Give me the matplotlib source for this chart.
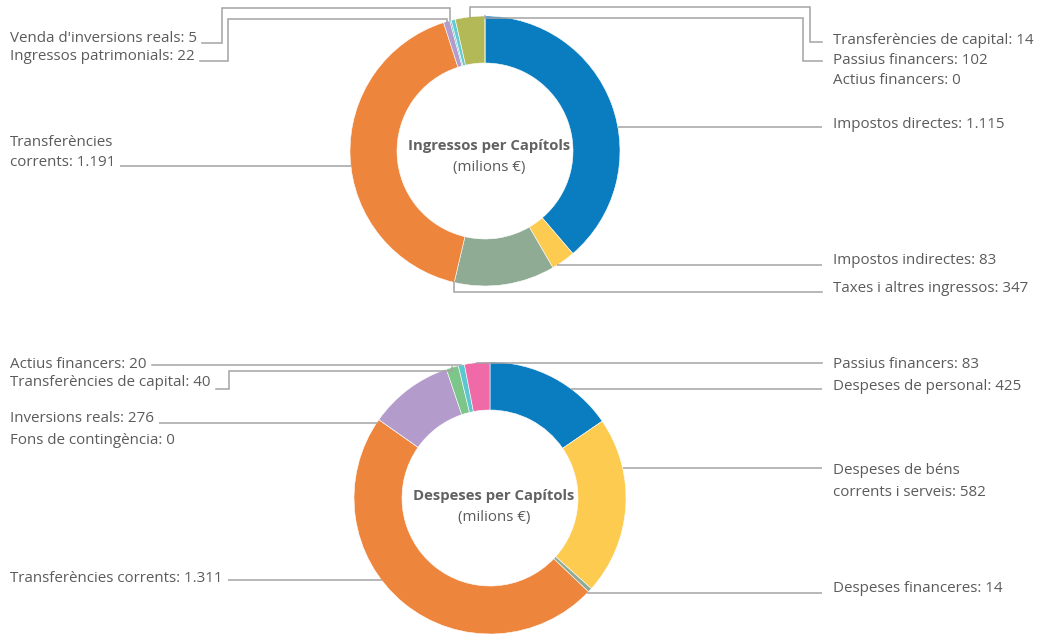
import matplotlib
matplotlib.use("Agg")
import matplotlib.pyplot as plt
import numpy as np

# ---------------- data ----------------
top_labels = ["Impostos directes", "Impostos indirectes", "Taxes i altres ingressos",
              "Transferències corrents", "Ingressos patrimonials", "Venda d'inversions reals",
              "Transferències de capital", "Passius financers", "Actius financers"]
top_values = [1115, 83, 347, 1191, 22, 5, 14, 102, 0]
top_colors = ["#0a7dc1", "#fdcb4f", "#8fab93", "#ee853d", "#b39ccb", "#4fbfc8",
              "#66cad3", "#b3b957", "#b3b957"]
top_title = "Ingressos per Capítols"

bot_labels = ["Despeses de personal", "Despeses de béns corrents i serveis",
              "Despeses financeres", "Transferències corrents", "Fons de contingència",
              "Inversions reals", "Transferències de capital", "Actius financers",
              "Passius financers"]
bot_values = [425, 582, 14, 1311, 0, 276, 40, 20, 83]
bot_colors = ["#0a7dc1", "#fdcb4f", "#8fab93", "#ee853d", "#999999", "#b39ccb",
              "#7dc68a", "#5cc6d1", "#ef6aa6"]
bot_title = "Despeses per Capítols"
subtitle = "(milions €)"

# ---------------- layout (pixel space, y down) ----------------
W, H = 1055, 635
TXT = "#5b5b5b"
LINE = "#a3a3a3"
FS = 10.9
LX, RX, RLINE = 10, 833, 822

top_layout = [
    dict(side="R", ty=[124], mode="h", ly=127),
    dict(side="R", ty=[261], mode="h", ly=265),
    dict(side="R", ty=[288], mode="a", ly=292, anchor=(2, 1.0)),
    dict(side="L", ty=[143, 163], mode="h", ly=166, brk="Transferències\ncorrents"),
    dict(side="L", ty=[56], mode="a", ly=61, ex=228, top=19, anchor=(4, 0.5)),
    dict(side="L", ty=[39], mode="a", ly=43, ex=222, top=8, anchor=(5, 0.5)),
    dict(side="R", ty=[40], mode="a", ly=42, ex=810, top=7, anchor=(7, 0.5)),
    dict(side="R", ty=[60], mode="a", ly=61, ex=803, top=18, anchor=(7, 1.0)),
    dict(side="R", ty=[80], mode=None),
]
bot_layout = [
    dict(side="R", ty=[386], mode="h", ly=389),
    dict(side="R", ty=[471, 493], mode="h", ly=468, brk="Despeses de béns\ncorrents i serveis"),
    dict(side="R", ty=[589], mode="h", ly=593),
    dict(side="L", ty=[579], mode="h", ly=580),
    dict(side="L", ty=[440], mode=None),
    dict(side="L", ty=[419], mode="h", ly=423),
    dict(side="L", ty=[382], mode="a", ly=389, ex=229, top=371, anchor=(6, 0.5)),
    dict(side="L", ty=[365], mode="a", ly=365, anchor=(7, 0.5)),
    dict(side="R", ty=[364], mode="a", ly=363, anchor=(8, 0.5)),
]

donuts = [
    dict(labels=top_labels, values=top_values, colors=top_colors, title=top_title,
         layout=top_layout, c=(485, 151), r=135, w=47, ty=(146, 167)),
    dict(labels=bot_labels, values=bot_values, colors=bot_colors, title=bot_title,
         layout=bot_layout, c=(490, 498), r=136, w=48, ty=(496, 518)),
]

plt.rcParams["font.family"] = ["Open Sans", "DejaVu Sans"]

fig = plt.figure(figsize=(W / 100, H / 100), dpi=100)
ax = fig.add_axes([0, 0, 1, 1])


def fmt(v):
    return f"{v:,}".replace(",", ".")


for d in donuts:
    cx, cy = d["c"]
    ax.pie(d["values"], colors=d["colors"], startangle=-90, counterclock=True,
           radius=d["r"], center=(cx, cy),
           wedgeprops=dict(width=d["w"], edgecolor="white", linewidth=0.4))

ax.set_xlim(0, W)
ax.set_ylim(H, 0)
ax.set_aspect("equal")
ax.axis("off")

fig.canvas.draw()
renderer = fig.canvas.get_renderer()
inv = ax.transData.inverted()

for d in donuts:
    cx, cy = d["c"]
    R = d["r"]
    vals = np.array(d["values"], dtype=float)
    cum = np.concatenate([[0], np.cumsum(vals)]) / vals.sum() * 360.0

    ax.text(cx + 4, d["ty"][0], d["title"], ha="center", va="center",
            fontsize=FS * 0.98, fontweight="bold", color="#626262")
    ax.text(cx + 4, d["ty"][1], subtitle, ha="center", va="center",
            fontsize=FS, color=TXT)

    for lab, val, lay in zip(d["labels"], d["values"], d["layout"]):
        name = lay.get("brk", lab)
        full = f"{name}: {fmt(val)}"
        lines = full.split("\n")
        tx = LX if lay["side"] == "L" else RX
        texts = []
        for line, y in zip(lines, lay["ty"]):
            texts.append(ax.text(tx, y, line, ha="left", va="center",
                                 fontsize=FS, color=TXT))
        mode = lay["mode"]
        if mode is None:
            continue
        ly = lay["ly"]
        if lay["side"] == "L":
            t = min(texts, key=lambda tt: abs(tt.get_position()[1] - ly))
            bb = t.get_window_extent(renderer)
            x_end = inv.transform((bb.x1, bb.y0))[0]
            start = x_end + 5
        else:
            start = RLINE
        if mode == "h":
            dx = np.sqrt(max(R ** 2 - (ly - cy) ** 2, 0))
            xe = cx - dx if lay["side"] == "L" else cx + dx
            ax.plot([start, xe], [ly, ly], color=LINE, lw=1.1, solid_capstyle="butt")
        else:
            i, frac = lay["anchor"]
            a = np.deg2rad(cum[i] + frac * (cum[i + 1] - cum[i]))
            axp = cx + R * np.sin(a)
            ayp = cy - R * np.cos(a)
            ex = lay.get("ex", start)
            top = lay.get("top", ly)
            xs = [start, ex, ex, axp, axp]
            ys = [ly, ly, top, top, ayp]
            ax.plot(xs, ys, color=LINE, lw=1.1, solid_joinstyle="miter")

fig.savefig("out.png", dpi=100, facecolor="white")
